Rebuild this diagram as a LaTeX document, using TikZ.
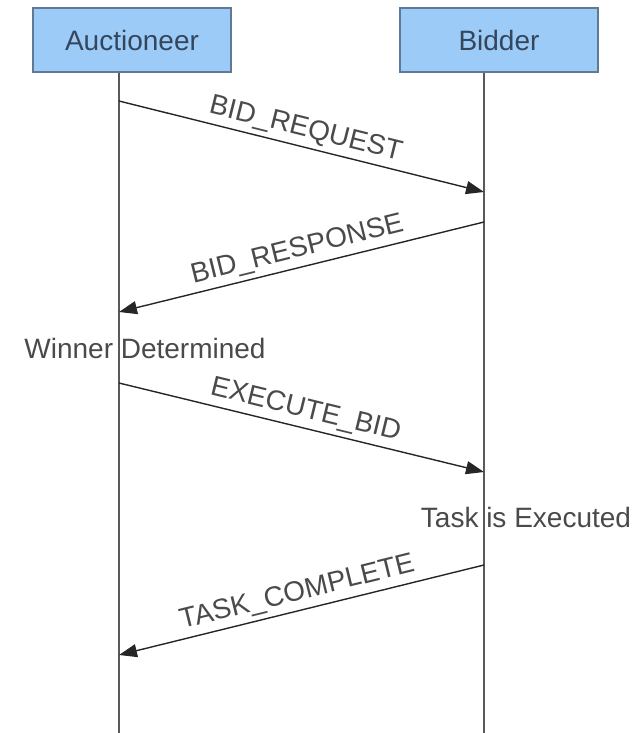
\documentclass[tikz,border=0pt]{standalone}
\usepackage{fontspec}
\setmainfont{Liberation Sans}
\usetikzlibrary{arrows.meta,positioning}

\definecolor{boxfill}{HTML}{9DCBF7}
\definecolor{boxline}{HTML}{5F7A96}
\definecolor{boxtext}{HTML}{34465C}
\definecolor{msgtext}{HTML}{4A4A4A}

\tikzset{
  actor/.style={draw=boxline, fill=boxfill, line width=1pt, text=boxtext,
    minimum width=99pt, minimum height=32pt, inner sep=0pt,
    font=\fontsize{14}{16}\selectfont},
  lifeline/.style={draw=black!65, line width=0.6pt},
  msg/.style={draw=black!85, line width=0.7pt, -{Triangle[length=9pt,width=6.5pt]}},
  msglabel/.style={above, sloped, text=msgtext, inner sep=2pt,
    font=\fontsize{14}{16}\selectfont},
  note/.style={text=msgtext, inner sep=0pt, font=\fontsize{14}{16}\selectfont}
}

\begin{document}
\begin{tikzpicture}[x=0.5pt,y=-0.5pt]

  \useasboundingbox (0,0) rectangle (640,733);

  % participants
  \node[actor] (auc) at (132,40) {Auctioneer};
  \node[actor] (bid) at (499,40) {Bidder};

  % lifelines
  \coordinate (aucend) at (119,733);
  \coordinate (bidend) at (484,733);
  \draw[lifeline] (auc.south -| aucend) -- (aucend);
  \draw[lifeline] (bid.south -| bidend) -- (bidend);

  % message ends
  \coordinate (a1) at (119,101);  \coordinate (b1) at (484,192);
  \coordinate (b2) at (484,222);  \coordinate (a2) at (119,312);
  \coordinate (a3) at (119,383);  \coordinate (b3) at (484,472);
  \coordinate (b4) at (484,565);  \coordinate (a4) at (119,655);

  % messages
  \draw[msg] (a1) -- node[msglabel] {BID\_REQUEST} (b1);
  \draw[msg] (b2) -- node[msglabel] {BID\_RESPONSE} (a2);
  \draw[msg] (a3) -- node[msglabel] {EXECUTE\_BID} (b3);
  \draw[msg] (b4) -- node[msglabel] {TASK\_COMPLETE} (a4);

  % states
  \node[note] (winner) at (145,348) {Winner Determined};
  \node[note] (done) at (526,517) {Task is Executed};

\end{tikzpicture}
\end{document}
